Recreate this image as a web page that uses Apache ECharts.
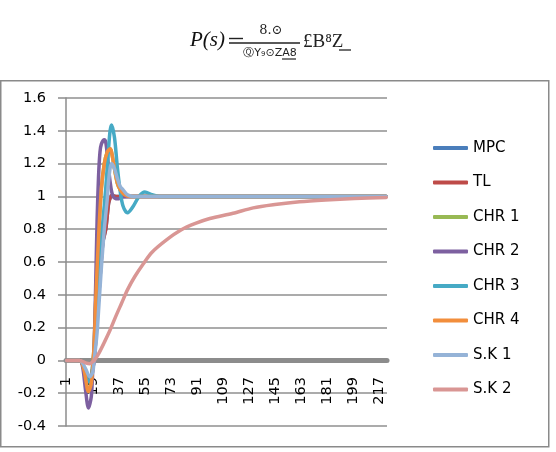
<!DOCTYPE html>
<html><head><meta charset="utf-8">
<script src="https://cdn.jsdelivr.net/npm/echarts@6/dist/echarts.min.js"></script>
<style>html,body{margin:0;padding:0;background:#fff}#c{width:556px;height:452px}</style>
</head><body><div id="c"></div>
<script>
// category labels 1..222
const categoryCount = 222;
const categories = Array.from({length: categoryCount}, (_, i) => String(i + 1));
const seriesNames = ['MPC', 'TL', 'CHR 1', 'CHR 2', 'CHR 3', 'CHR 4', 'S.K 1', 'S.K 2'];
const yTicks = {min: -0.4, max: 1.6, interval: 0.2};

// [category number, value]
const mpc  = [[1,0],[10,0],[14,-0.08],[17,-0.13],[19,-0.05],[20,0],[22,0.25],[24,0.5],[26,0.72],[28,0.8],[29,0.88],[30,0.96],[31,0.99],[32,1.005],[35,1.0],[222,1]];
const tl   = [[1,0],[10,0],[14,-0.08],[17,-0.13],[19,-0.05],[20,0],[22,0.25],[24,0.5],[26,0.72],[28,0.8],[29,0.88],[30,0.96],[31,0.99],[32,1.005],[35,1.0],[222,1]];
const chr1 = [[1,0],[10,0],[13,-0.06],[16,-0.19],[18,-0.14],[19,-0.03],[20,0.1],[21,0.35],[23,0.75],[25,1.05],[27,1.2],[29,1.27],[31,1.29],[32,1.27],[34,1.17],[36,1.08],[38,1.04],[41,1.01],[45,1.0],[222,1]];
const chr2 = [[1,0],[10,0],[12,-0.04],[14,-0.18],[16,-0.29],[18,-0.22],[19,-0.06],[20,0.1],[21,0.45],[22,0.85],[23,1.12],[24,1.27],[25,1.32],[27,1.345],[28,1.33],[29,1.26],[31,1.09],[33,1.0],[36,0.985],[40,0.997],[45,1],[222,1]];
const chr3 = [[1,0],[10,0],[13,-0.05],[16,-0.13],[18,-0.1],[19,-0.02],[20,0.05],[22,0.35],[24,0.65],[26,0.85],[28,1.05],[30,1.3],[31,1.4],[32,1.435],[34,1.36],[36,1.18],[38,1.03],[40,0.94],[43,0.9],[47,0.94],[51,1.0],[55,1.027],[60,1.01],[65,1.0],[222,1]];
const chr4 = [[1,0],[10,0],[13,-0.06],[16,-0.19],[18,-0.14],[19,-0.03],[20,0.1],[21,0.35],[23,0.75],[25,1.05],[27,1.2],[29,1.27],[31,1.29],[32,1.27],[34,1.17],[36,1.08],[38,1.04],[41,1.01],[45,1.0],[222,1]];
const sk1  = [[1,0],[10,0],[14,-0.05],[17,-0.1],[19,-0.07],[20,0],[22,0.17],[23,0.3],[25,0.57],[27,0.8],[29,0.98],[30,1.1],[32,1.2],[34,1.17],[36,1.11],[38,1.06],[40,1.04],[43,1.01],[47,1.0],[222,1]];
const sk2  = [[1,0],[10,0],[14,-0.015],[17,-0.02],[19,-0.008],[20,0],[23,0.04],[27,0.11],[31,0.185],[35,0.27],[39,0.35],[43,0.43],[48,0.51],[54,0.59],[60,0.66],[70,0.735],[80,0.795],[90,0.835],[100,0.865],[116,0.897],[130,0.93],[145,0.95],[162,0.967],[180,0.978],[200,0.987],[222,0.994]];

const seriesData = [mpc, tl, chr1, chr2, chr3, chr4, sk1, sk2];
const colors = ['#4A7EBB', '#BE4B48', '#98B954', '#7D60A0', '#46AAC5', '#F28E3C', '#95B3D7', '#D99694'];

const chart = echarts.init(document.getElementById('c'), null, {renderer: 'canvas'});
const font = 'DejaVu Sans';
chart.setOption({
  animation: false,
  backgroundColor: '#fff',
  grid: {left: 66, right: 169, top: 98, bottom: 26, containLabel: false, outerBoundsMode: 'none'},
  legend: {
    orient: 'vertical', left: 428, top: 133,
    itemWidth: 35, itemHeight: 4, itemGap: 14.5,
    icon: 'roundRect',
    textStyle: {fontFamily: font, fontSize: 15, color: '#000', lineHeight: 20},
    data: seriesNames
  },
  xAxis: {
    type: 'category', data: categories, boundaryGap: true,
    axisLine: {onZero: true, lineStyle: {color: '#8c8c8c', width: 5}},
    axisTick: {show: false},
    axisLabel: {interval: 17, rotate: 90, margin: -49, fontFamily: font, fontSize: 14.5, color: '#000'},
    splitLine: {show: false}
  },
  yAxis: {
    type: 'value', min: yTicks.min, max: yTicks.max, interval: yTicks.interval,
    axisLine: {show: true, lineStyle: {color: '#8c8c8c', width: 1.5}},
    axisTick: {show: true, length: 8, lineStyle: {color: '#8c8c8c', width: 1.5}},
    axisLabel: {margin: 20, fontFamily: font, fontSize: 14.5, color: '#000',
      formatter: v => String(Math.round(v * 10) / 10)},
    splitLine: {show: true, lineStyle: {color: '#8f8f8f', width: 1.5}}
  },
  series: seriesNames.map((name, i) => ({
    name, type: 'line', showSymbol: false, symbol: 'none', smooth: 0.3,
    color: colors[i],
    lineStyle: {width: 3.5, color: colors[i], cap: 'round', join: 'round'},
    data: seriesData[i].map(([k, v]) => [String(k), v])
  })),
  graphic: [
    {type: 'rect', shape: {x: 0.75, y: 80.75, width: 548, height: 366}, style: {fill: null, stroke: '#8a8a8a', lineWidth: 1.5}, silent: true},
    {type: 'text', left: 190, top: 30, style: {text: 'P(s)', font: 'italic 21px "Liberation Serif"', fill: '#111'}},
    {type: 'line', shape: {x1: 229, y1: 38.5, x2: 243, y2: 38.5}, style: {stroke: '#222', lineWidth: 1.4}},
    {type: 'line', shape: {x1: 229, y1: 43, x2: 300, y2: 43}, style: {stroke: '#222', lineWidth: 1.4}},
    {type: 'text', x: 271, y: 31, style: {text: '8.⊙', font: '13px "DejaVu Serif"', fill: '#222', align: 'center', verticalAlign: 'middle'}},
    {type: 'text', x: 270, y: 53, style: {text: 'ⓆY₉⊙ZA8', font: '11px "DejaVu Sans"', fill: '#222', align: 'center', verticalAlign: 'middle'}},
    {type: 'line', shape: {x1: 282, y1: 59, x2: 296, y2: 59}, style: {stroke: '#222', lineWidth: 1.2}},
    {type: 'text', x: 303, y: 42, style: {text: '£B⁸Z', font: '19px "Liberation Serif"', fill: '#222', align: 'left', verticalAlign: 'middle'}},
    {type: 'line', shape: {x1: 339, y1: 50, x2: 351, y2: 50}, style: {stroke: '#222', lineWidth: 1.3}}
  ]
});
</script></body></html>
